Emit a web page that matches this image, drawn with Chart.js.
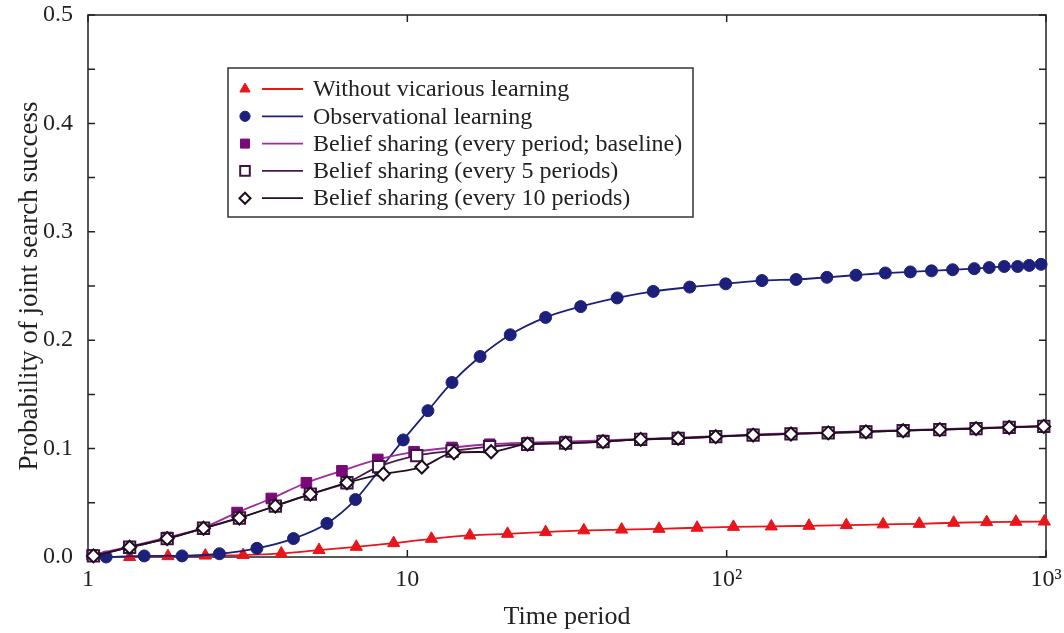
<!DOCTYPE html>
<html>
<head>
<meta charset="utf-8">
<script src="https://cdn.jsdelivr.net/npm/chart.js@4.4.1/dist/chart.umd.min.js"></script>
<style>
  body { margin: 0; background: #fff; }
  canvas { display: block; }
</style>
</head>
<body>
<canvas id="chart" width="1064" height="633"></canvas>
<script>
// values (x = time period, y = probability)
const seriesNames = [
  'Without vicarious learning',
  'Observational learning',
  'Belief sharing (every period; baseline)',
  'Belief sharing (every 5 periods)',
  'Belief sharing (every 10 periods)'
];

const triX = [1.35, 1.78, 2.33, 3.06, 4.03, 5.29, 6.92, 9.06, 11.9, 15.7, 20.6, 27.1, 35.7, 46.9, 61.4, 80.8, 105, 138, 181, 237, 309, 401, 514, 652, 805, 988];
const triY = [0, 0.0008, 0.0013, 0.0018, 0.0033, 0.0064, 0.0094, 0.0128, 0.0168, 0.0199, 0.0214, 0.023, 0.0246, 0.0253, 0.026, 0.027, 0.0278, 0.0282, 0.0288, 0.0294, 0.0301, 0.0306, 0.0316, 0.0322, 0.0325, 0.0327];

const circX = [1.14, 1.5, 1.97, 2.58, 3.38, 4.4, 5.6, 6.88, 8.17, 9.71, 11.6, 13.8, 16.9, 21.0, 27.1, 34.9, 45.4, 58.9, 76.6, 99.3, 129, 165, 206, 254, 314, 376, 438, 510, 596, 664, 740, 815, 886, 965];
const circY = [0, 0.001, 0.001, 0.003, 0.008, 0.017, 0.031, 0.053, 0.080, 0.108, 0.135, 0.161, 0.185, 0.205, 0.221, 0.231, 0.239, 0.245, 0.249, 0.252, 0.255, 0.256, 0.258, 0.260, 0.262, 0.263, 0.264, 0.265, 0.266, 0.267, 0.268, 0.268, 0.269, 0.270];

const bs1X = [1.03, 1.35, 1.77, 2.29, 2.93, 3.75, 4.83, 6.24, 8.08, 10.5, 13.8, 18.1, 23.8, 31.3, 41.0, 53.8, 70.5, 92.4, 121, 159, 208, 273, 357, 465, 604, 767, 984];
const bs1Y = [0.002, 0.0095, 0.018, 0.027, 0.041, 0.054, 0.0685, 0.0795, 0.09, 0.097, 0.101, 0.104, 0.1055, 0.1065, 0.1075, 0.109, 0.110, 0.1115, 0.113, 0.114, 0.115, 0.116, 0.117, 0.118, 0.119, 0.120, 0.121];

const bs5X = [1.04, 1.35, 1.77, 2.3, 2.98, 3.86, 4.97, 6.47, 8.13, 10.7, 13.8, 18.1, 23.8, 31.3, 41.0, 53.8, 70.5, 92.4, 121, 159, 208, 273, 357, 465, 604, 767, 984];
const bs5Y = [0.001, 0.009, 0.017, 0.0265, 0.036, 0.047, 0.058, 0.0685, 0.0833, 0.0936, 0.0978, 0.1018, 0.104, 0.105, 0.1065, 0.1085, 0.1095, 0.111, 0.1125, 0.1135, 0.1145, 0.1155, 0.1165, 0.1175, 0.1185, 0.1195, 0.1205];

const bs10X = [1.04, 1.35, 1.77, 2.3, 2.98, 3.86, 4.97, 6.47, 8.41, 11.1, 14.0, 18.3, 23.8, 31.3, 41.0, 53.8, 70.5, 92.4, 121, 159, 208, 273, 357, 465, 604, 767, 984];
const bs10Y = [0.001, 0.009, 0.017, 0.0265, 0.036, 0.047, 0.058, 0.0685, 0.0766, 0.083, 0.0962, 0.0971, 0.1042, 0.1049, 0.1064, 0.1085, 0.1095, 0.111, 0.1125, 0.1135, 0.1145, 0.1155, 0.1165, 0.1175, 0.1185, 0.1195, 0.1205];

const xTicks = [1, 10, 100, 1000];
const xTickLabels = ['1', '10', '10²', '10³'];

const serif = '"Liberation Serif", "Times New Roman", serif';
const pts = (xs, ys) => xs.map((x, i) => ({ x: x, y: ys[i] }));

function series(i, xs, ys, style) {
  return Object.assign({
    label: seriesNames[i],
    data: pts(xs, ys),
    borderWidth: 1.8,
    pointBorderWidth: 1,
    cubicInterpolationMode: 'monotone',
    clip: false
  }, style);
}

// no extra room for edge labels, the layout padding decides the plot box
function noEdgePadding(s) {
  s.paddingLeft = 0; s.paddingRight = 0; s.paddingTop = 0; s.paddingBottom = 0;
}

// box round the plot with inward ticks
const frame = {
  id: 'frame',
  beforeDatasetsDraw(chart) {
    const { ctx, chartArea: a, scales } = chart;
    ctx.save();
    ctx.strokeStyle = '#222';
    ctx.lineWidth = 1.5;
    ctx.strokeRect(a.left, a.top, a.right - a.left, a.bottom - a.top);
    ctx.beginPath();
    scales.y.ticks.forEach(t => {
      const py = scales.y.getPixelForValue(t.value);
      ctx.moveTo(a.left, py); ctx.lineTo(a.left + 7, py);
      ctx.moveTo(a.right, py); ctx.lineTo(a.right - 7, py);
    });
    scales.x.ticks.forEach(t => {
      const px = scales.x.getPixelForValue(t.value);
      ctx.moveTo(px, a.bottom); ctx.lineTo(px, a.bottom - 7);
      ctx.moveTo(px, a.top); ctx.lineTo(px, a.top + 7);
    });
    ctx.stroke();
    ctx.restore();
  }
};

// boxed legend: marker, short line, label
const boxLegend = {
  id: 'boxLegend',
  afterDraw(chart) {
    const { ctx, chartArea: a } = chart;
    const x0 = a.left + 140, y0 = a.top + 53, w = 465, h = 149;
    ctx.save();
    ctx.fillStyle = '#fff';
    ctx.fillRect(x0, y0, w, h);
    ctx.strokeStyle = '#333';
    ctx.lineWidth = 1.5;
    ctx.strokeRect(x0, y0, w, h);
    chart.data.datasets.forEach((ds, i) => {
      const y = y0 + 21 + i * 27.3;
      ctx.strokeStyle = ds.borderColor;
      ctx.lineWidth = 1.8;
      ctx.beginPath();
      ctx.moveTo(x0 + 34, y); ctx.lineTo(x0 + 75, y);
      ctx.stroke();
      ctx.fillStyle = ds.pointBackgroundColor;
      ctx.strokeStyle = ds.pointBorderColor;
      ctx.lineWidth = ds.pointBorderWidth;
      Chart.helpers.drawPoint(ctx, {
        pointStyle: ds.pointStyle,
        radius: ds.pointRadius * 0.85,
        rotation: 0,
        borderWidth: ds.pointBorderWidth
      }, x0 + 17, y);
      ctx.fillStyle = '#222';
      ctx.font = '24px ' + serif;
      ctx.textBaseline = 'middle';
      ctx.fillText(ds.label, x0 + 85, y + 1);
    });
    ctx.restore();
  }
};

new Chart(document.getElementById('chart'), {
  type: 'line',
  data: {
    datasets: [
      series(0, triX, triY, {
        borderColor: '#e8151b', pointBackgroundColor: '#e8151b', pointBorderColor: '#e8151b',
        pointStyle: 'triangle', pointRadius: 7, order: 5
      }),
      series(1, circX, circY, {
        borderColor: '#1c207a', pointBackgroundColor: '#1c207a', pointBorderColor: '#1c207a',
        pointStyle: 'circle', pointRadius: 6, order: 4
      }),
      series(2, bs1X, bs1Y, {
        borderColor: '#a02c9c', pointBackgroundColor: '#7a0a7a', pointBorderColor: '#7a0a7a',
        pointStyle: 'rect', pointRadius: 7.5, order: 3
      }),
      series(3, bs5X, bs5Y, {
        borderColor: '#4a1a4c', pointBackgroundColor: '#ffffff', pointBorderColor: '#3d1640',
        pointStyle: 'rect', pointRadius: 8, pointBorderWidth: 2, order: 2
      }),
      series(4, bs10X, bs10Y, {
        borderColor: '#221022', pointBackgroundColor: '#ffffff', pointBorderColor: '#1e0d1e',
        pointStyle: 'rectRot', pointRadius: 6.5, pointBorderWidth: 2, order: 1
      })
    ]
  },
  options: {
    responsive: false,
    animation: false,
    layout: { padding: { left: 0, right: 18, top: 15, bottom: 0 } },
    plugins: { legend: { display: false }, tooltip: { enabled: false } },
    scales: {
      x: {
        type: 'logarithmic',
        min: 1,
        max: 1000,
        grid: { display: false },
        border: { display: false },
        afterBuildTicks: s => { s.ticks = xTicks.map(v => ({ value: v })); },
        afterFit: s => { s.height = 76; noEdgePadding(s); },
        ticks: {
          autoSkip: false,
          maxRotation: 0,
          padding: 0,
          color: '#222',
          font: { family: serif, size: 24 },
          callback: v => xTickLabels[xTicks.indexOf(v)] ?? ''
        },
        title: {
          display: true,
          text: 'Time period',
          color: '#222',
          font: { family: serif, size: 26 },
          padding: { top: 0, bottom: 0 }
        }
      },
      y: {
        min: 0,
        max: 0.5,
        grid: { display: false },
        border: { display: false },
        afterFit: s => { s.width = 88; noEdgePadding(s); },
        ticks: {
          stepSize: 0.05,
          autoSkip: false,
          padding: 7,
          color: '#222',
          font: { family: serif, size: 24 },
          callback: v => Math.abs(v * 10 - Math.round(v * 10)) < 1e-6 ? v.toFixed(1) : ''
        },
        title: {
          display: true,
          text: 'Probability of joint search success',
          color: '#222',
          font: { family: serif, size: 27 },
          padding: { top: 14, bottom: 0 }
        }
      }
    }
  },
  plugins: [frame, boxLegend]
});
</script>
</body>
</html>
